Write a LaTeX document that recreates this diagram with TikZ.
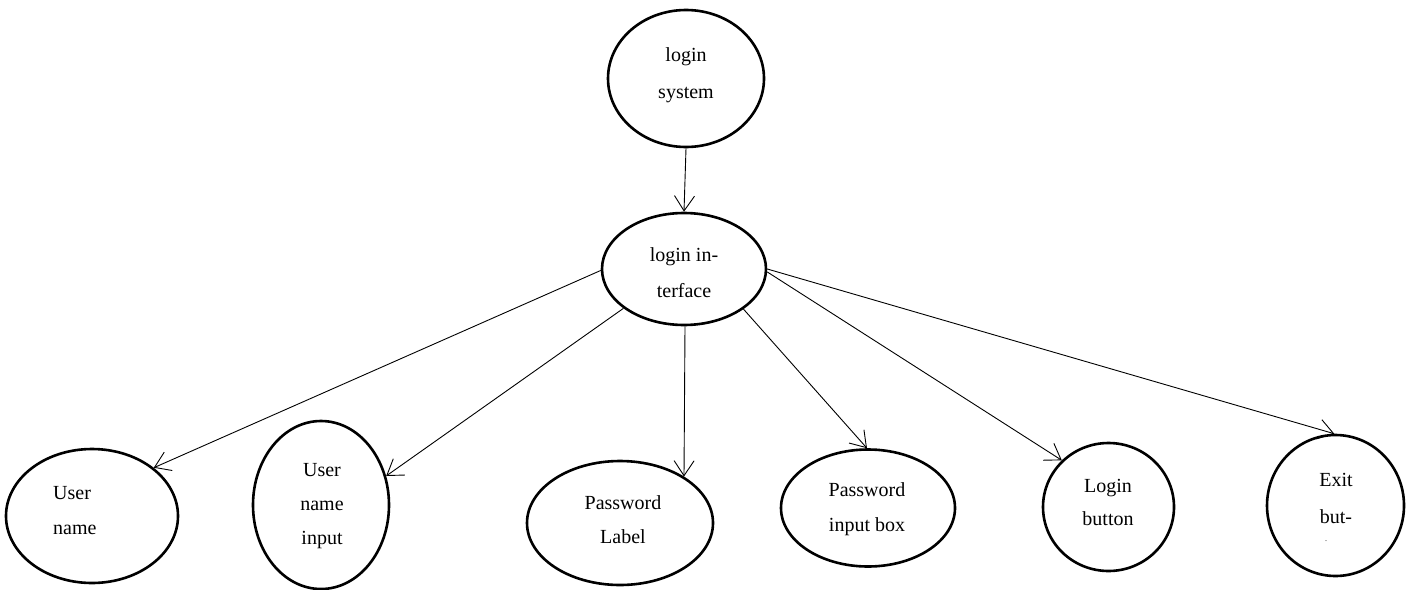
\documentclass[tikz,border=0pt]{standalone}
\usepackage{fontspec}
\setmainfont{Liberation Serif}
\usetikzlibrary{shapes.geometric,arrows.meta}
\begin{document}
\begin{tikzpicture}[x=1pt,y=-1pt,
  oval/.style={draw, ellipse, line width=2.6pt, inner sep=0pt},
  lbl/.style={font=\fontsize{20}{35}\selectfont, align=center, inner sep=0pt},
  link/.style={line width=0.9pt, -{Straight Barb[length=15pt,width=20pt]}}
]
\useasboundingbox (0,0) rectangle (1415,589);

% ellipses
\node[oval, minimum width=156pt, minimum height=137pt] (ls)  at (686,78.5) {};
\node[oval, minimum width=164pt, minimum height=112pt] (li)  at (684,269) {};
\node[oval, minimum width=172pt, minimum height=134pt] (un)  at (92,516) {};
\node[oval, minimum width=136pt, minimum height=168pt] (uni) at (321,505) {};
\node[oval, minimum width=186pt, minimum height=124pt] (pl)  at (620,523) {};
\node[oval, minimum width=174pt, minimum height=117pt] (pib) at (868,508) {};
\node[oval, minimum width=131pt, minimum height=128pt] (lb)  at (1108.5,507) {};
\node[oval, minimum width=137pt, minimum height=141pt] (ex)  at (1335.5,505.5) {};

% texts
\node[lbl, font=\fontsize{20}{37}\selectfont] (tls) at (686,75.5) {login\\system};
\node[lbl, font=\fontsize{20}{36}\selectfont] (tli) at (684,273) {login in-\\terface};
\node[lbl, align=left, anchor=west] (tun) at (53,510.5) {User\\name};
\node[lbl, font=\fontsize{20}{34}\selectfont] (tuni) at (322,506) {User\\name\\input};
\node[lbl, font=\fontsize{20}{34}\selectfont] (tpl) at (623,520) {Password\\Label};
\node[lbl] (tpib) at (867,509.5) {Password\\input box};
\node[lbl, font=\fontsize{20}{33}\selectfont] (tlb) at (1108,502.5) {Login\\button};
\node[lbl, font=\fontsize{20}{37}\selectfont] (tex) at (1336,498.5) {Exit\\but-};
\node[lbl, font=\fontsize{10}{12}\selectfont, text=black!60] (dot) at (1326,541) {.};

% connectors
\draw[link] (ls.south) -- (li.north);
\draw[link] (li.181) -- (un.38);
\draw[link] (li.213) -- (uni.24);
\draw[link] (li.271) -- (pl.36);
\draw[link] (li.326.5) -- (pib.91);
\draw[link] (li.358) -- (lb.135);
\draw[link] (li.0) -- (ex.91);
\end{tikzpicture}
\end{document}
